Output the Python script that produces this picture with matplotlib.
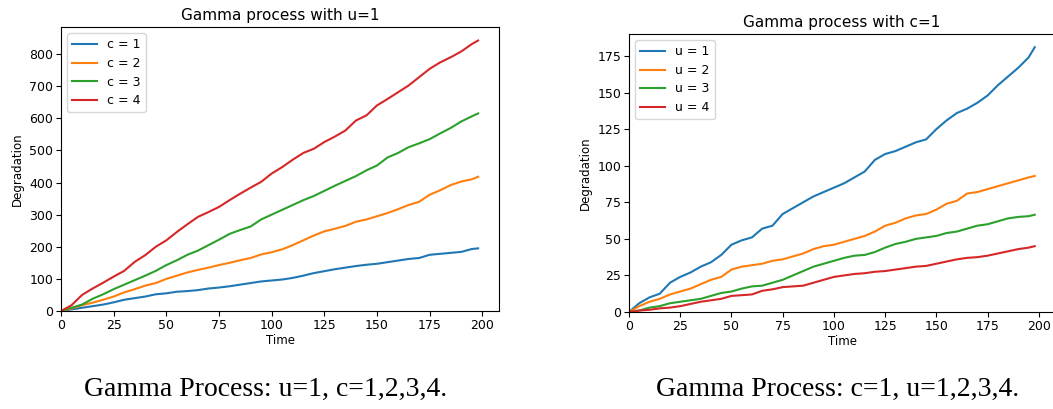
import matplotlib
matplotlib.use('Agg')
import matplotlib.pyplot as plt

time = [0, 5, 10, 15, 20, 25, 30, 35, 40, 45, 50, 55, 60, 65, 70, 75, 80, 85, 90, 95,
        100, 105, 110, 115, 120, 125, 130, 135, 140, 145, 150, 155, 160, 165, 170, 175,
        180, 185, 190, 195, 198]

# left panel: u=1, c=1..4
c1 = [0, 5, 10, 15, 20, 27, 35, 40, 45, 52, 55, 60, 62, 65, 70, 73, 77, 82, 87, 92,
      95, 98, 103, 110, 118, 124, 130, 135, 140, 144, 147, 152, 157, 162, 165, 175,
      178, 181, 184, 193, 195]
c2 = [0, 8, 18, 26, 35, 45, 58, 68, 79, 87, 100, 110, 120, 128, 135, 143, 150, 158, 165, 176,
      183, 192, 205, 220, 235, 248, 256, 265, 278, 285, 295, 305, 317, 330, 340, 362,
      376, 392, 403, 410, 418]
c3 = [0, 10, 20, 38, 52, 68, 82, 96, 110, 125, 143, 158, 175, 188, 205, 222, 240, 252, 263, 285,
      300, 315, 330, 345, 358, 374, 390, 405, 420, 438, 453, 478, 492, 510, 522, 535,
      553, 570, 590, 606, 615]
c4 = [0, 18, 50, 70, 88, 107, 125, 153, 174, 200, 220, 246, 270, 293, 308, 324, 345, 365, 384, 402,
      428, 448, 471, 492, 505, 526, 543, 562, 593, 609, 640, 660, 681, 702, 728, 754,
      774, 790, 808, 831, 842]

# right panel: c=1, u=1..4
u1 = [0, 6, 10, 12.5, 20, 24, 27, 31, 34, 39, 46, 49, 51, 57, 59, 67, 71, 75, 79, 82,
      85, 88, 92, 96, 104, 108, 110, 113, 116, 118, 125, 131, 136, 139, 143, 148,
      155, 161, 167, 174, 181]
u2 = [0, 4, 7, 9, 12, 14, 16, 19, 22, 24, 29, 31, 32, 33, 35, 36, 38, 40, 43, 45,
      46, 48, 50, 52, 55, 59, 61, 64, 66, 67, 70, 74, 76, 81, 82, 84,
      86, 88, 90, 92, 93]
u3 = [0, 1, 3, 4, 6, 7, 8, 9, 11, 13, 14, 16, 17.5, 18, 20, 22, 25, 28, 31, 33,
      35, 37, 38.5, 39, 41, 44, 46.5, 48, 50, 51, 52, 54, 55, 57, 59, 60,
      62, 64, 65, 65.5, 66.5]
u4 = [0, 1, 1.5, 2.5, 3, 4, 5.5, 7, 8, 9, 11, 11.5, 12, 14.5, 15.5, 17, 17.5, 18, 20, 22,
      24, 25, 26, 26.5, 27.5, 28, 29, 30, 31, 31.5, 33, 34.5, 36, 37, 37.5, 38.5,
      40, 41.5, 43, 44, 45]

left_series = [c1, c2, c3, c4]
left_labels = ['c = 1', 'c = 2', 'c = 3', 'c = 4']
right_series = [u1, u2, u3, u4]
right_labels = ['u = 1', 'u = 2', 'u = 3', 'u = 4']

W, H = 1053, 409
fig = plt.figure(figsize=(W / 100, H / 100), dpi=100)


def draw_panel(rect, series, labels, title, caption, cap_x):
    ax = fig.add_axes(rect)
    for vals, lab in zip(series, labels):
        ax.plot(time, vals, label=lab, lw=1.5)
    ax.set_xlim(left=0)
    ax.set_ylim(bottom=0)
    ax.set_title(title, fontsize=11, pad=5)
    ax.set_xlabel('Time', fontsize=8.5, labelpad=2)
    ax.set_ylabel('Degradation', fontsize=8.5, labelpad=4)
    ax.tick_params(labelsize=9, length=3.5, pad=2)
    ax.legend(loc='upper left', fontsize=9, handlelength=2, borderpad=0.4, labelspacing=0.45)
    # caption below each panel
    fig.text(cap_x / W, 1 - 389 / H, caption, ha='center', va='center',
             family='Liberation Serif', fontsize=20)
    return ax


draw_panel([61 / W, 1 - 311 / H, 438 / W, 284 / H], left_series, left_labels,
           'Gamma process with u=1', 'Gamma Process: u=1, c=1,2,3,4.', 266)
draw_panel([629 / W, 1 - 312 / H, 426 / W, 278 / H], right_series, right_labels,
           'Gamma process with c=1', 'Gamma Process: c=1, u=1,2,3,4.', 838)

fig.savefig('out.png', dpi=100)
